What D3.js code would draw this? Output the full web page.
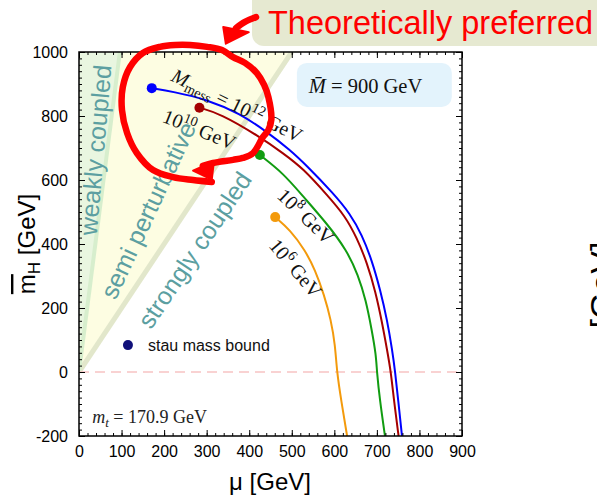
<!DOCTYPE html>
<meta charset="utf-8">
<style>
  body { margin:0; background:#fff; }
  svg { display:block; font-family:"Liberation Sans", Arial, sans-serif; }
  .math { font-family:"Liberation Serif", "Times New Roman", serif; }
</style>
<script src="https://d3js.org/d3.v7.min.js"></script>
<body>
<script>
// messenger scales and curve colours
var messScales = ["12", "10", "8", "6"];
var curveColors = ["#0000ff", "#a50000", "#119c11", "#f39a0c"];

// curves in (mu, mH) [GeV], first point is the stau mass bound
var curve12 = [[171,887],[221,876],[300,852],[378,808],[441,751],[495,695],[535,645],[597,559],[637,495],[665,428],[688,350],[708,256],[724,163],[736,69],[743,0],[750,-88],[759,-200]];
var curve10 = [[283,826],[331,808],[425,735],[480,683],[526,637],[585,550],[625,488],[653,419],[677,341],[697,250],[712,156],[724,69],[733,0],[740,-88],[751,-200]];
var curve8  = [[425,678],[480,621],[527,548],[582,465],[629,381],[656,303],[674,225],[688,131],[698,53],[700,0],[707,-88],[719,-200]];
var curve6  = [[461,484],[496,444],[531,381],[555,319],[576,241],[592,163],[602,84],[606,0],[616,-88],[630,-200]];
var curves = [curve12, curve10, curve8, curve6];

// label anchors (mu, mH, angle)
var curveLabelPos = [[214,912,26],[193,783,22],[463,547,44],[444,394,50]];

// coupling regions
var weakRegion = [[0,0],[0,1000],[96,1000]];
var semiRegion = [[0,0],[96,1000],[500,1000]];
var regionLabels = ["weakly coupled", "semi perturbative", "strongly coupled"];
var regionLabelPos = [[59,691,-85],[181,494,-65],[289,366,-56]];

// tick values
var xTicks = [0,100,200,300,400,500,600,700,800,900];
var yTicks = [-200,0,200,400,600,800,1000];

// hand drawn annotation (mu, mH)
var loopPath = [[312,594],[268,600],[221,609],[174,631],[136,684],[113,747],[101,819],[103,891],[120,953],[150,997],[190,1016],[226,1022],[261,1022],[301,1016],[336,1006],[362,984],[390,966],[418,934],[435,897],[445,859],[452,788],[445,756],[432,734],[409,684],[385,669],[362,663],[315,653],[291,644]];
var loopHead = [[268,629],[317,658],[312,601]];
var arrowPath = [[416,1109],[390,1094],[369,1075]];
var arrowHead = [[345,1026],[339,1078],[399,1062]];

var width = 597, height = 502;
var x = d3.scaleLinear().domain([0,900]).range([79,462]);
var y = d3.scaleLinear().domain([-200,1000]).range([436,52]);

var svg = d3.select("body").append("svg")
  .attr("width", width)
  .attr("height", height);

svg.append("clipPath").attr("id","plotclip")
  .append("rect")
  .attr("x", x(0)).attr("y", y(1000))
  .attr("width", x(900)-x(0)).attr("height", y(-200)-y(1000));

var plot = svg.append("g").attr("clip-path","url(#plotclip)");
var poly = d3.line().x(function(d){return x(d[0]);}).y(function(d){return y(d[1]);});

plot.append("path").attr("d", poly(semiRegion)+"Z").attr("fill","#fdfde2");
plot.append("path").attr("d", poly(weakRegion)+"Z").attr("fill","#e9f6e0");
plot.append("path").attr("d", poly([semiRegion[0], semiRegion[2]]))
  .attr("stroke","#e2e7cb").attr("stroke-width",5).attr("fill","none");
plot.append("path").attr("d", poly([weakRegion[0], weakRegion[2]]))
  .attr("stroke","#d7eecd").attr("stroke-width",4).attr("fill","none");

// zero line
plot.append("line")
  .attr("x1", x(0)).attr("x2", x(900))
  .attr("y1", y(0)).attr("y2", y(0))
  .attr("stroke","#f7c3c3").attr("stroke-width",1.5)
  .attr("stroke-dasharray","10,6");

// region labels
svg.selectAll(".region").data(regionLabels).enter().append("text")
  .attr("class","region")
  .attr("transform", function(d,i){ var p = regionLabelPos[i]; return "translate("+x(p[0])+","+y(p[1])+") rotate("+p[2]+")"; })
  .attr("text-anchor","middle")
  .attr("fill","#5c9fa1")
  .style("font-size","25px")
  .text(function(d){return d;});

// curves
var curveLine = d3.line()
  .x(function(d){return x(d[0]);})
  .y(function(d){return y(d[1]);})
  .curve(d3.curveBasis);

plot.selectAll(".curve").data(curves).enter().append("path")
  .attr("class","curve")
  .attr("d", curveLine)
  .attr("fill","none")
  .attr("stroke", function(d,i){return curveColors[i];})
  .attr("stroke-width",2);

svg.selectAll(".bound").data(curves).enter().append("circle")
  .attr("cx", function(d){return x(d[0][0]);})
  .attr("cy", function(d){return y(d[0][1]);})
  .attr("r",5)
  .attr("fill", function(d,i){return curveColors[i];});

// curve labels
svg.selectAll(".clabel").data(messScales).enter().append("text")
  .attr("class","clabel math")
  .attr("transform", function(d,i){ var p = curveLabelPos[i]; return "translate("+x(p[0])+","+y(p[1])+") rotate("+p[2]+")"; })
  .style("font-size","20px")
  .attr("fill","#111")
  .each(function(d,i){
    var t = d3.select(this);
    if (i == 0) {
      t.append("tspan").style("font-style","italic").text("M");
      t.append("tspan").attr("dy",4).style("font-size","14px").text("mess");
      t.append("tspan").attr("dy",-4).text(" = 10");
    } else {
      t.append("tspan").text("10");
    }
    t.append("tspan").attr("dy",-8).style("font-size","14px").text(d);
    t.append("tspan").attr("dy",8).text(" GeV");
  });

// legend box
svg.append("rect")
  .attr("x", x(512)).attr("y", y(966))
  .attr("width", x(876)-x(512)).attr("height", y(828)-y(966))
  .attr("rx",10).attr("fill","#e3f3fc");
var mbar = svg.append("text").attr("class","math")
  .attr("x", x(540)).attr("y", y(872))
  .style("font-size","20.5px").attr("fill","#111");
mbar.append("tspan").style("font-style","italic").text("M\u0304");
mbar.append("tspan").text(" = 900 GeV");

// stau legend
svg.append("circle").attr("cx", x(115)).attr("cy", y(84)).attr("r",5).attr("fill","#10107a");
svg.append("text").attr("x", x(162)).attr("y", y(66))
  .style("font-size","16px").attr("fill","#111").text("stau mass bound");

// top mass
var mt = svg.append("text").attr("class","math")
  .attr("x", x(31)).attr("y", y(-160))
  .style("font-size","18px").attr("fill","#222");
mt.append("tspan").style("font-style","italic").text("m");
mt.append("tspan").attr("dy",4).style("font-size","13px").style("font-style","italic").text("t");
mt.append("tspan").attr("dy",-4).text(" = 170.9 GeV");

// axes
function styleAxis(g) {
  g.select(".domain").remove();
  g.selectAll("line").attr("stroke","#000");
  g.selectAll("text").style("font-size","16px").attr("fill","#000")
    .style("font-family","'Liberation Sans', Arial, sans-serif");
}
var xMinor = d3.range(0,901,20), yMinor = d3.range(-200,1001,20);

svg.append("g").attr("transform","translate(0,"+y(-200)+")")
  .call(d3.axisBottom(x).tickValues(xMinor).tickSize(-3).tickFormat("")).call(styleAxis);
svg.append("g").attr("transform","translate(0,"+y(-200)+")")
  .call(d3.axisBottom(x).tickValues(xTicks).tickSize(-6).tickPadding(10).tickFormat(function(d){return String(d);})).call(styleAxis);
svg.append("g").attr("transform","translate(0,"+y(1000)+")")
  .call(d3.axisTop(x).tickValues(xMinor).tickSize(-3).tickFormat("")).call(styleAxis);
svg.append("g").attr("transform","translate(0,"+y(1000)+")")
  .call(d3.axisTop(x).tickValues(xTicks).tickSize(-6).tickFormat("")).call(styleAxis);
svg.append("g").attr("transform","translate("+x(0)+",0)")
  .call(d3.axisLeft(y).tickValues(yMinor).tickSize(-3).tickFormat("")).call(styleAxis);
svg.append("g").attr("transform","translate("+x(0)+",0)")
  .call(d3.axisLeft(y).tickValues(yTicks).tickSize(-6).tickPadding(11).tickFormat(function(d){return String(d);})).call(styleAxis);
svg.append("g").attr("transform","translate("+x(900)+",0)")
  .call(d3.axisRight(y).tickValues(yMinor).tickSize(-3).tickFormat("")).call(styleAxis);
svg.append("g").attr("transform","translate("+x(900)+",0)")
  .call(d3.axisRight(y).tickValues(yTicks).tickSize(-6).tickFormat("")).call(styleAxis);

svg.append("rect")
  .attr("x", x(0)).attr("y", y(1000))
  .attr("width", x(900)-x(0)).attr("height", y(-200)-y(1000))
  .attr("fill","none").attr("stroke","#000").attr("stroke-width",1.5);

// axis titles
svg.append("text").attr("x",270).attr("y",490)
  .attr("text-anchor","middle").style("font-size","24px").text("\u03bc [GeV]");
var yt = svg.append("text").attr("transform","translate(35,244) rotate(-90)")
  .attr("text-anchor","middle").style("font-size","24px");
yt.append("tspan").style("text-decoration","overline").text("m");
yt.append("tspan").attr("dy",5).style("font-size","17px").text("H");
yt.append("tspan").attr("dy",-5).text(" [GeV]");

// label of the neighbouring chart, cut by the window edge as in the source
svg.append("text").attr("transform","translate(614,285) rotate(-90)")
  .attr("text-anchor","middle").style("font-size","34px").text("[GeV]");

// title box
svg.append("rect").attr("x",252).attr("y",-12).attr("width",360).attr("height",58)
  .attr("rx",12).attr("fill","#e6e9d1");
svg.append("text").attr("x",268).attr("y",34)
  .style("font-size","32.5px").attr("fill","#ff0000").text("Theoretically preferred");

// hand drawn loop and arrow
var sketch = d3.line().x(function(d){return x(d[0]);}).y(function(d){return y(d[1]);})
  .curve(d3.curveCatmullRom.alpha(0.5));
svg.append("path").attr("d", sketch(loopPath))
  .attr("fill","none").attr("stroke","#ff0000").attr("stroke-width",6.5)
  .attr("stroke-linecap","round").attr("stroke-linejoin","round");
svg.append("path").attr("d", poly(loopHead)+"Z").attr("fill","#ff0000")
  .attr("stroke","#ff0000").attr("stroke-width",2).attr("stroke-linejoin","round");
svg.append("path").attr("d", sketch(arrowPath))
  .attr("fill","none").attr("stroke","#ff0000").attr("stroke-width",6.5)
  .attr("stroke-linecap","round");
svg.append("path").attr("d", poly(arrowHead)+"Z").attr("fill","#ff0000")
  .attr("stroke","#ff0000").attr("stroke-width",2).attr("stroke-linejoin","round");
</script>
</body>
